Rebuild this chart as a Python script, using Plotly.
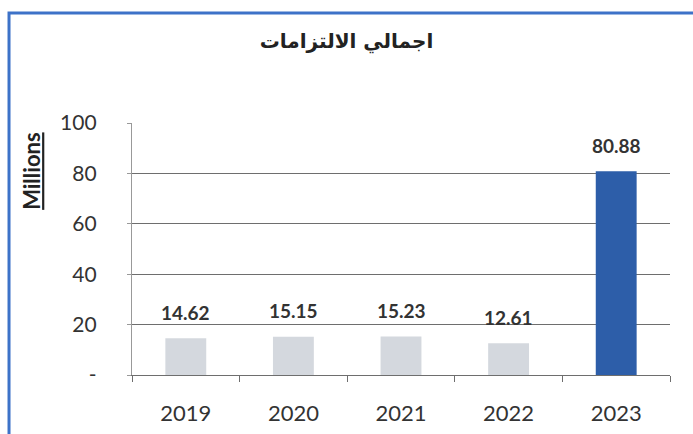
import plotly.graph_objects as go

years = ["2019", "2020", "2021", "2022", "2023"]
values = [14.62, 15.15, 15.23, 12.61, 80.88]
bar_colors = ["#d4d8de", "#d4d8de", "#d4d8de", "#d4d8de", "#2d5ea9"]
y_ticks = [0, 20, 40, 60, 80, 100]
y_tick_text = ["-", "20", "40", "60", "80", "100"]
title_text = "اجمالي الالتزامات"
y_title = "Millions"

fig = go.Figure(go.Bar(x=years, y=values, marker_color=bar_colors,
                       marker_line_width=0, width=0.38))

# value labels, placed by category index
for i, v in enumerate(values):
    fig.add_annotation(x=i, y=v, text="<b>%.2f</b>" % v, showarrow=False,
                       yshift=26, font=dict(family="Lato", size=19, color="#333"))

# scanned page border (blue, top + left)
fig.add_shape(type="rect", xref="paper", yref="paper",
              x0=-0.2286, x1=1.2, y0=-0.6, y1=1.4365,
              line=dict(color="#3d72c8", width=3))

fig.add_annotation(xref="paper", yref="paper", x=-0.1859, y=0.81,
                   xanchor="center", yanchor="middle",
                   text="<b><u>" + y_title + "</u></b>", textangle=-90,
                   showarrow=False, font=dict(family="Lato", size=22, color="#222"))

fig.update_layout(
    width=693, height=434,
    margin=dict(l=132, r=23, t=123, b=59, autoexpand=False),
    paper_bgcolor="white", plot_bgcolor="white",
    showlegend=False,
    title=dict(text="<b>" + title_text + "</b>", x=0.5, xanchor="center",
               y=0.905, yanchor="middle",
               font=dict(family="DejaVu Sans", size=20, color="#222")),
)
fig.update_yaxes(range=[0, 100], tickvals=y_ticks, ticktext=y_tick_text,
                 showgrid=True, gridcolor="#6e6e6e", gridwidth=1.3,
                 showline=True, linecolor="#999", linewidth=1.3,
                 ticks="outside", ticklen=4, tickcolor="#999",
                 ticklabelstandoff=26, zeroline=False, automargin=False,
                 tickfont=dict(family="Lato", size=21, color="#333"))
fig.update_xaxes(type="category", range=[-0.5, 4.5],
                 showline=True, linecolor="#6e6e6e", linewidth=1.3,
                 ticks="outside", tickson="boundaries", ticklen=6,
                 tickcolor="#6e6e6e", ticklabelstandoff=18, automargin=False,
                 tickangle=0,
                 tickfont=dict(family="Lato", size=22, color="#333"))

fig.write_html("out.html", config={"displayModeBar": False},
               post_script="document.body.style.margin='0';"
                           "document.body.style.overflow='hidden';")
